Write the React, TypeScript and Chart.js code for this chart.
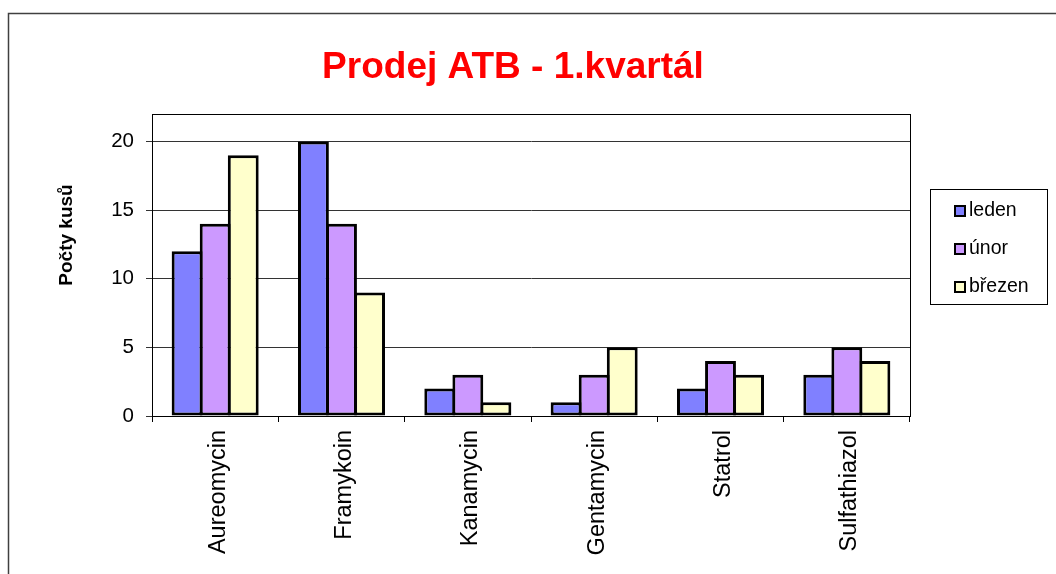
import React, { useEffect, useRef } from 'react';
import { Chart, registerables } from 'chart.js';

Chart.register(...registerables);

const categories = ['Aureomycin', 'Framykoin', 'Kanamycin', 'Gentamycin', 'Statrol', 'Sulfathiazol'];
const seriesNames = ['leden', 'únor', 'březen'];
const leden = [12, 20, 2, 1, 2, 3];
const unor = [14, 14, 3, 3, 4, 5];
const brezen = [19, 9, 1, 5, 3, 4];
const seriesColors = ['#8080FF', '#CC99FF', '#FFFFCC'];
const yTickValues = [0, 5, 10, 15, 20];
const titleText = 'Prodej ATB - 1.kvartál';
const yTitleText = 'Počty kusů';

const FONT = '"Liberation Sans", Arial, Helvetica, sans-serif';

const decorPlugin = {
  id: 'decor',
  afterDraw(chart: any) {
    const ctx = chart.ctx as CanvasRenderingContext2D;
    const { left, top, right, bottom } = chart.chartArea;
    ctx.save();

    // outer frame (cropped picture: left and top edges only)
    ctx.strokeStyle = '#404040';
    ctx.lineWidth = 1.5;
    ctx.beginPath();
    ctx.moveTo(8.5, 574);
    ctx.lineTo(8.5, 13.5);
    ctx.lineTo(1056, 13.5);
    ctx.stroke();

    // plot area frame
    ctx.strokeStyle = '#000';
    ctx.lineWidth = 1;
    ctx.strokeRect(Math.round(left) + 0.5, Math.round(top) + 0.5, Math.round(right - left), Math.round(bottom - top));

    // title
    ctx.fillStyle = '#FF0000';
    ctx.font = `bold 37px ${FONT}`;
    ctx.textAlign = 'center';
    ctx.textBaseline = 'alphabetic';
    ctx.fillText(titleText, 513, 78);

    // y axis title
    ctx.save();
    ctx.translate(67, 235);
    ctx.rotate(-Math.PI / 2);
    ctx.fillStyle = '#000';
    ctx.font = `bold 19px ${FONT}`;
    ctx.textAlign = 'center';
    ctx.textBaseline = 'middle';
    ctx.fillText(yTitleText, 0, 0);
    ctx.restore();

    // legend
    ctx.strokeStyle = '#000';
    ctx.lineWidth = 1;
    ctx.strokeRect(930.5, 189.5, 117, 115);
    ctx.font = `19.5px ${FONT}`;
    ctx.textAlign = 'left';
    ctx.textBaseline = 'alphabetic';
    chart.data.datasets.forEach((ds: any, i: number) => {
      const base = 216 + 38 * i;
      ctx.fillStyle = ds.backgroundColor;
      ctx.fillRect(955, base - 10, 10, 10);
      ctx.lineWidth = 2;
      ctx.strokeStyle = '#000';
      ctx.strokeRect(955, base - 10, 10, 10);
      ctx.fillStyle = '#000';
      ctx.fillText(ds.label, 969, base);
    });

    ctx.restore();
  },
};

export default function App() {
  const canvasRef = useRef<HTMLCanvasElement | null>(null);

  useEffect(() => {
    if (!canvasRef.current) return;
    const seriesData = [leden, unor, brezen];
    const chart = new Chart(canvasRef.current, {
      type: 'bar',
      data: {
        labels: categories,
        datasets: seriesNames.map((name, i) => ({
          label: name,
          data: seriesData[i],
          backgroundColor: seriesColors[i],
          borderColor: '#000',
          borderWidth: 3,
          borderSkipped: false,
          categoryPercentage: 2 / 3,
          barPercentage: 1.1,
        })),
      },
      options: {
        responsive: false,
        animation: false,
        devicePixelRatio: 1,
        layout: { padding: { top: 114, right: 146, bottom: 0, left: 0 } },
        plugins: {
          legend: { display: false },
          title: { display: false },
          tooltip: { enabled: false },
        },
        scales: {
          x: {
            afterFit: (scale: any) => {
              scale.height = 158;
            },
            grid: {
              display: true,
              drawOnChartArea: false,
              drawTicks: true,
              tickLength: 6,
              offset: true,
              color: '#000',
            },
            border: { display: true, color: '#000', width: 1 },
            ticks: {
              autoSkip: false,
              minRotation: 90,
              maxRotation: 90,
              padding: 8,
              labelOffset: 3,
              color: '#000',
              font: { family: FONT, size: 23.5 },
            },
          },
          y: {
            min: 0,
            max: 22,
            afterFit: (scale: any) => {
              scale.width = 152;
            },
            afterBuildTicks: (scale: any) => {
              scale.ticks = yTickValues.map((v) => ({ value: v }));
            },
            grid: {
              display: true,
              drawOnChartArea: true,
              drawTicks: true,
              tickLength: 6,
              color: '#333',
            },
            border: { display: true, color: '#000', width: 1 },
            ticks: {
              stepSize: 5,
              padding: 12,
              color: '#000',
              font: { family: FONT, size: 20.5 },
            },
          },
        },
      },
      plugins: [decorPlugin],
    });
    return () => chart.destroy();
  }, []);

  return (
    <div style={{ position: 'absolute', left: 0, top: 0, width: 1056, height: 574, background: '#fff' }}>
      <canvas ref={canvasRef} width={1056} height={574} style={{ width: 1056, height: 574, display: 'block' }} />
    </div>
  );
}
